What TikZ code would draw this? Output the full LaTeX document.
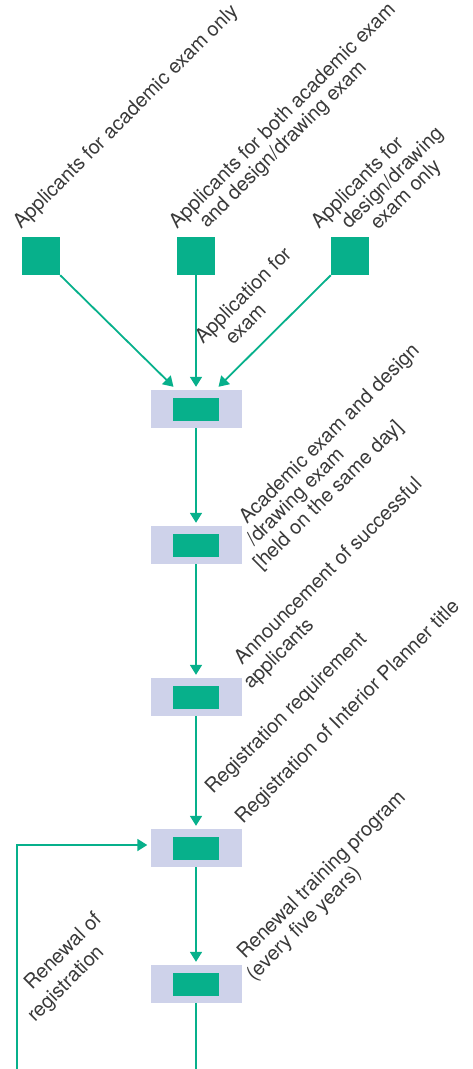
\documentclass[tikz,border=0pt]{standalone}
\usepackage{fontspec}
\setmainfont{TeX Gyre Heros}
\usetikzlibrary{arrows.meta,calc}
\definecolor{grn}{HTML}{07B08B}
\definecolor{lav}{HTML}{CED2EA}
\definecolor{txt}{HTML}{3A3A3A}
\tikzset{
  sq/.style={fill=grn,draw=none,minimum width=38pt,minimum height=38pt,inner sep=0pt},
  stepbox/.style={fill=lav,draw=none,minimum width=91pt,minimum height=38pt,inner sep=0pt,
    path picture={\fill[grn] ($(path picture bounding box.center)+(-23pt,-11.5pt)$) rectangle ++(46pt,23pt);}},
  conn/.style={draw=grn,line width=1.8pt},
  arr/.style={conn,-{Triangle[width=12pt,length=10pt]}},
  lbl/.style={rotate=45,anchor=base west,inner sep=0pt,text=txt,font=\fontsize{20}{21}\selectfont}
}
\begin{document}
\begin{tikzpicture}[x=1pt,y=-1pt]
\useasboundingbox (0,0) rectangle (472,1069);
% top squares
\node[sq] (s1) at (41,256) {};
\node[sq] (s2) at (196,256) {};
\node[sq] (s3) at (350,256) {};
% step boxes
\node[stepbox] (b1) at (196,409) {};
\node[stepbox] (b2) at (196,545) {};
\node[stepbox] (b3) at (196,697) {};
\node[stepbox] (b4) at (196,848) {};
\node[stepbox] (b5) at (196,984) {};
% connector end points
\coordinate (t1) at ($(b1.north)+(-22.5,-3)$);
\coordinate (t2) at ($(b1.north)+(0,-3)$);
\coordinate (t3) at ($(b1.north)+(22.5,-3)$);
\coordinate (bot) at (196,1069);
\coordinate (lp) at (17,1069);
\coordinate (lt) at ($(b4.west)+(-3,-3)$);
% connectors
\draw[arr] (s1.south east) -- (t1);
\draw[arr] (s2.south) -- (t2);
\draw[arr] (s3.south west) -- (t3);
\draw[arr] (b1.south) -- ($(b2.north)+(0,-3)$);
\draw[arr] (b2.south) -- ($(b3.north)+(0,-3)$);
\draw[arr] (b3.south) -- ($(b4.north)+(0,-3)$);
\draw[arr] (b4.south) -- ($(b5.north)+(0,-3)$);
\draw[conn] (b5.south) -- (bot);
\draw[arr] (lp) |- (lt);
% labels
\node[lbl] (l1) at (21,230) {Applicants for academic exam only};
\node[lbl] (l2a) at (177,230) {Applicants for both academic exam};
\node[lbl] (l2b) at (207,229) {and design/drawing exam};
\node[lbl] (l3a) at (319,230) {Applicants for};
\node[lbl] (l3b) at (349,230) {design/drawing};
\node[lbl] (l3c) at (378,231) {exam only};
\node[lbl] (l4a) at (203,345) {Application for};
\node[lbl] (l4b) at (233,346) {exam};
\node[lbl] (l5a) at (247,525) {Academic exam and design};
\node[lbl] (l5b) at (254,547) {/drawing exam};
\node[lbl] (l5c) at (261,571) {[held on the same day]};
\node[lbl] (l6a) at (242,666) {Announcement of successful};
\node[lbl] (l6b) at (251,690) {applicants};
\node[lbl] (l7) at (213,795) {Registration requirement};
\node[lbl] (l8) at (243,825) {Registration of Interior Planner title};
\node[lbl] (l9a) at (245,960) {Renewal training program};
\node[lbl] (l9b) at (254,982) {(every five years)};
\node[lbl] (l10a) at (32,991) {Renewal of};
\node[lbl] (l10b) at (35,1023) {registration};
\end{tikzpicture}
\end{document}
